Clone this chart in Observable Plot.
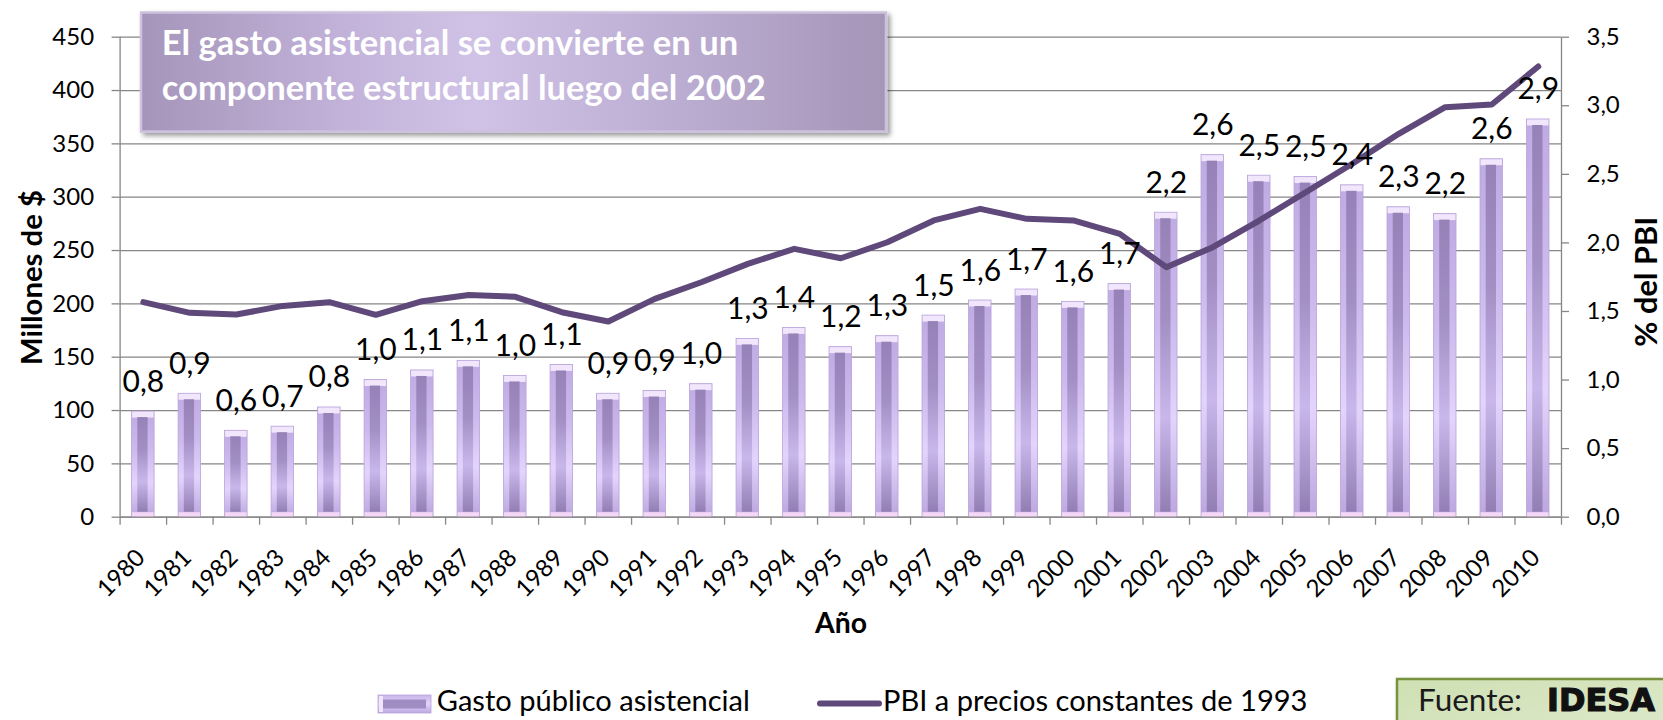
<!DOCTYPE html>
<html>
<head>
<meta charset="utf-8">
<script src="https://cdn.jsdelivr.net/npm/d3@7"></script>
<script src="https://cdn.jsdelivr.net/npm/@observablehq/plot@0.6"></script>
<style>
html, body { margin: 0; padding: 0; background: #fff; overflow: hidden; }
#wrap { position: relative; width: 1663px; height: 720px; overflow: hidden; font-family: Lato, sans-serif; }
#wrap svg { display: block; }
</style>
</head>
<body>
<div id="wrap"></div>
<script>
// ---------- data ----------
const years = [1980, 1981, 1982, 1983, 1984, 1985, 1986, 1987, 1988, 1989,
               1990, 1991, 1992, 1993, 1994, 1995, 1996, 1997, 1998, 1999,
               2000, 2001, 2002, 2003, 2004, 2005, 2006, 2007, 2008, 2009, 2010];
// Gasto público asistencial (% del PBI) – bars, right axis
const gastoPct = [0.77, 0.90, 0.63, 0.66, 0.80, 1.00, 1.07, 1.14, 1.03, 1.11,
                  0.90, 0.92, 0.97, 1.30, 1.38, 1.24, 1.32, 1.47, 1.58, 1.66,
                  1.57, 1.70, 2.22, 2.64, 2.49, 2.48, 2.42, 2.26, 2.21, 2.61, 2.90];
// PBI a precios constantes de 1993 (Millones de $) – line, left axis
const pbi = [201.6, 191.6, 190.0, 198.1, 201.6, 189.7, 202.5, 208.4, 206.6, 192.2,
             183.5, 204.7, 220.3, 237.5, 251.6, 242.8, 257.8, 278.2, 289.1, 279.7,
             278.2, 265.6, 234.4, 253.1, 278.1, 304.7, 331.3, 359.4, 384.4, 386.9, 422.5];
const leftTicks = [0, 50, 100, 150, 200, 250, 300, 350, 400, 450];
const rightTicks = [0, 0.5, 1.0, 1.5, 2.0, 2.5, 3.0, 3.5];
const titleLines = ["El gasto asistencial se convierte en un", "componente estructural luego del 2002"];
const legendLabels = ["Gasto público asistencial", "PBI a precios constantes de 1993"];
const axisTitles = {left: "Millones de $", right: "% del PBI", x: "Año"};
const source = ["Fuente:", "IDESA"];

// ---------- helpers ----------
const K = 450 / 3.5; // right-axis unit expressed in left-axis units
const fmt = v => v.toFixed(1).replace(".", ",");
const ctx = document.createElement("canvas").getContext("2d");
function fit(text, weight, target, family = "Lato") {
  ctx.font = `${weight} 100px ${family}`;
  return 100 * target / ctx.measureText(text).width;
}

const data = years.map((year, i) => ({year, pct: gastoPct[i], pbi: pbi[i]}));
const bounds = [years[0] - 0.5, ...years.map(y => y + 0.5)];
const GRID = "#868686";

const tickFont = 24;
const xFont = 24;
const labelFont = 30;

const plot = Plot.plot({
  width: 1663,
  height: 720,
  marginLeft: 119.6,
  marginRight: 102,
  marginTop: 36.7,
  marginBottom: 203.3,
  x: {domain: [years[0] - 0.5, years[years.length - 1] + 0.5], axis: null},
  y: {domain: [0, 450], axis: null},
  style: {fontFamily: "Lato, sans-serif", background: "transparent", color: "#000", overflow: "visible"},
  marks: [
    Plot.gridY(leftTicks, {stroke: GRID, strokeOpacity: 1, strokeWidth: 1.3}),
    // bars: outer body
    Plot.rectY(data, {x1: d => d.year - 0.5, x2: d => d.year + 0.5, y1: 0, y2: d => d.pct * K,
      insetLeft: 12, insetRight: 12, fill: "url(#gOuter)", stroke: "#b7a3da", strokeWidth: 0.8}),
    // top bevel highlight
    Plot.ruleY(data, {y: d => d.pct * K, x1: d => d.year - 0.5, x2: d => d.year + 0.5,
      insetLeft: 12.5, insetRight: 12.5, stroke: "#f1e6fc", strokeWidth: 6, dy: 3}),
    // bottom bevel highlight
    Plot.ruleY(data, {y: 0, x1: d => d.year - 0.5, x2: d => d.year + 0.5,
      insetLeft: 12.5, insetRight: 12.5, stroke: "#f5d8f8", strokeWidth: 5, dy: -2.5}),
    // inner darker core
    Plot.rectY(data, {x1: d => d.year - 0.5, x2: d => d.year + 0.5, y1: 0, y2: d => d.pct * K,
      insetLeft: 17.7, insetRight: 18.5, insetTop: 6, insetBottom: 5, fill: "url(#gInner)"}),
    // axis lines
    Plot.ruleX([years[0] - 0.5, years[years.length - 1] + 0.5], {stroke: GRID, strokeWidth: 1.3}),
    Plot.ruleY([0], {stroke: GRID, strokeWidth: 1.3}),
    // left axis
    Plot.axisY({anchor: "left", ticks: leftTicks, tickSize: 8, tickPadding: 18, fontSize: tickFont,
      stroke: GRID, strokeWidth: 1.3, fill: "#000", label: null}),
    // right axis
    Plot.axisY({anchor: "right", ticks: rightTicks.map(v => v * K), tickFormat: d => fmt(d / K),
      tickSize: 7, tickPadding: 18, fontSize: tickFont, stroke: GRID, strokeWidth: 1.3, fill: "#000", label: null}),
    // x boundary ticks
    Plot.axisX({ticks: bounds, tickFormat: () => "", tickSize: 8, stroke: GRID, strokeWidth: 1.3, label: null}),
    // x tick labels
    Plot.text(years, {x: d => d, frameAnchor: "bottom", text: d => String(d), rotate: -45,
      textAnchor: "end", lineAnchor: "bottom", dx: 3, dy: 42, fontSize: xFont, fill: "#000"}),
    // PBI line
    Plot.line(data, {x: "year", y: "pbi", stroke: "#5f497a", strokeWidth: 6,
      strokeLinejoin: "round", strokeLinecap: "round"}),
    // bar value labels
    Plot.text(data, {x: "year", y: d => d.pct * K, text: d => fmt(d.pct), lineAnchor: "bottom",
      dy: -20, fontSize: labelFont, fill: "#000"})
  ]
});

// gradients for the bars
const defs = d3.select(plot).insert("defs", ":first-child");
const gO = defs.append("linearGradient").attr("id", "gOuter").attr("x1", 0).attr("y1", 0).attr("x2", 0).attr("y2", 1);
[[0, "#bfabe3"], [0.35, "#cbb8ec"], [0.68, "#e3d4fc"], [1, "#bba6de"]]
  .forEach(([o, c]) => gO.append("stop").attr("offset", o).attr("stop-color", c));
const gI = defs.append("linearGradient").attr("id", "gInner").attr("x1", 0).attr("y1", 0).attr("x2", 0).attr("y2", 1);
[[0, "#9682b6"], [0.35, "#a38fc4"], [0.68, "#c9b7ec"], [1, "#927eb2"]]
  .forEach(([o, c]) => gI.append("stop").attr("offset", o).attr("stop-color", c));

document.getElementById("wrap").appendChild(plot);

// ---------- overlay: title box, axis titles, legend, source ----------
const ov = d3.select("#wrap").append("svg")
  .attr("width", 1663).attr("height", 720)
  .style("position", "absolute").style("left", 0).style("top", 0)
  .style("pointer-events", "none")
  .style("font-family", "Lato, sans-serif");
const od = ov.append("defs");
const sh = od.append("filter").attr("id", "shadow").attr("x", "-10%").attr("y", "-10%").attr("width", "130%").attr("height", "140%");
sh.append("feDropShadow").attr("dx", 3).attr("dy", 3).attr("stdDeviation", 2.5).attr("flood-color", "#000").attr("flood-opacity", 0.4);
const tg = od.append("linearGradient").attr("id", "titleGrad").attr("x1", 0).attr("x2", 1).attr("y1", 0).attr("y2", 0);
[[0, "#a595ba"], [0.28, "#c3b3da"], [0.45, "#d0c2e6"], [0.7, "#bdaed4"], [1, "#a596b8"]]
  .forEach(([o, c]) => tg.append("stop").attr("offset", o).attr("stop-color", c));
const fg = od.append("linearGradient").attr("id", "srcGrad").attr("x1", 0).attr("x2", 1).attr("y1", 0).attr("y2", 1);
[[0, "#cfe0b3"], [1, "#e2ecd3"]].forEach(([o, c]) => fg.append("stop").attr("offset", o).attr("stop-color", c));

// title box
ov.append("rect").attr("x", 141).attr("y", 12.5).attr("width", 745).attr("height", 119)
  .attr("fill", "url(#titleGrad)").attr("stroke", "#cdc1de").attr("stroke-width", 2.5)
  .attr("filter", "url(#shadow)");
const tSize = (fit(titleLines[0], 700, 576) + fit(titleLines[1], 700, 605)) / 2;
ov.append("text").attr("x", 161.7).attr("y", 55).attr("fill", "#fff").attr("font-weight", 700)
  .attr("font-size", tSize).text(titleLines[0]);
ov.append("text").attr("x", 161.7).attr("y", 100).attr("fill", "#fff").attr("font-weight", 700)
  .attr("font-size", tSize).text(titleLines[1]);

// axis titles
ov.append("text").attr("transform", "translate(41.5,277.5) rotate(-90)").attr("text-anchor", "middle")
  .attr("font-weight", 700).attr("font-size", fit(axisTitles.left, 700, 175)).attr("fill", "#000").text(axisTitles.left);
ov.append("text").attr("transform", "translate(1657,281.7) rotate(-90)").attr("text-anchor", "middle")
  .attr("font-weight", 700).attr("font-size", fit(axisTitles.right, 700, 130)).attr("fill", "#000").text(axisTitles.right);
ov.append("text").attr("x", 841).attr("y", 633).attr("text-anchor", "middle")
  .attr("font-weight", 700).attr("font-size", fit(axisTitles.x, 700, 52)).attr("fill", "#000").text(axisTitles.x);

// legend
const lg = od.append("linearGradient").attr("id", "legGrad").attr("x1", 0).attr("x2", 0).attr("y1", 0).attr("y2", 1);
[[0, "#c9b5ea"], [0.5, "#e2d2fb"], [1, "#bca8e0"]].forEach(([o, c]) => lg.append("stop").attr("offset", o).attr("stop-color", c));
ov.append("rect").attr("x", 378).attr("y", 695).attr("width", 53).attr("height", 18)
  .attr("fill", "url(#legGrad)").attr("stroke", "#b7a3da").attr("stroke-width", 0.8);
ov.append("rect").attr("x", 383).attr("y", 699.5).attr("width", 43).attr("height", 9).attr("fill", "#a08cc1");
ov.append("rect").attr("x", 379).attr("y", 696).attr("width", 4).attr("height", 16).attr("fill", "#f1e6fc");
const lSize = (fit(legendLabels[0], 400, 316) + fit(legendLabels[1], 400, 421)) / 2;
ov.append("text").attr("x", 436.8).attr("y", 711).attr("font-size", lSize).attr("fill", "#000").text(legendLabels[0]);
ov.append("line").attr("x1", 820).attr("x2", 879).attr("y1", 703.5).attr("y2", 703.5)
  .attr("stroke", "#5f497a").attr("stroke-width", 6).attr("stroke-linecap", "round");
ov.append("text").attr("x", 883).attr("y", 711).attr("font-size", lSize).attr("fill", "#000").text(legendLabels[1]);

// source box
ov.append("rect").attr("x", 1397).attr("y", 679).attr("width", 320).attr("height", 90)
  .attr("fill", "url(#srcGrad)").attr("stroke", "#77933c").attr("stroke-width", 2.5)
  .attr("filter", "url(#shadow)");
const fSize = fit(source[0], 400, 104);
ov.append("text").attr("x", 1418).attr("y", 711).attr("font-size", fSize).attr("fill", "#1a1a1a").text(source[0]);
const iSize = fit("IDESA", 700, 108, "'DejaVu Sans'");
ov.append("text").attr("x", 1547).attr("y", 711).attr("font-size", iSize)
  .attr("font-family", "'DejaVu Sans', sans-serif").attr("font-weight", 700)
  .attr("fill", "#111").attr("stroke", "#111").attr("stroke-width", 1.2).text(source[1]);
</script>
</body>
</html>
